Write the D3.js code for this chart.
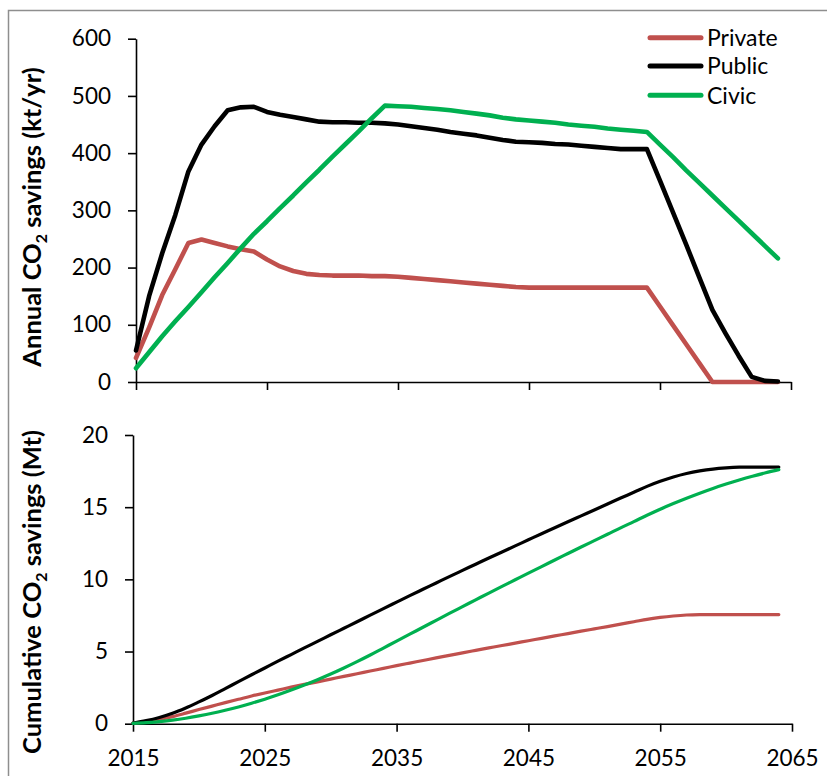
<!DOCTYPE html>
<html>
<head>
<meta charset="utf-8">
<script src="https://cdn.jsdelivr.net/npm/d3@7"></script>
<style>
  body { margin: 0; background: #ffffff; }
  svg { display: block; font-family: Lato, "Open Sans", sans-serif; }
</style>
</head>
<body>
<svg id="chart" width="827" height="776"></svg>
<script>
// Years covered by the scenario
const years = [2015, 2016, 2017, 2018, 2019, 2020, 2021, 2022, 2023, 2024,
               2025, 2026, 2027, 2028, 2029, 2030, 2031, 2032, 2033, 2034,
               2035, 2036, 2037, 2038, 2039, 2040, 2041, 2042, 2043, 2044,
               2045, 2046, 2047, 2048, 2049, 2050, 2051, 2052, 2053, 2054,
               2055, 2056, 2057, 2058, 2059, 2060, 2061, 2062, 2063, 2064];

// Annual CO2 savings, kt/yr
const privateAnnual = [42, 95, 152, 197, 243, 249, 243, 237, 232, 228,
                       214, 202, 194, 189, 187, 186, 186, 186, 185, 185,
                       184, 182, 180, 178, 176, 174, 172, 170, 168, 166,
                       165, 165, 165, 165, 165, 165, 165, 165, 165, 165,
                       132, 99, 66, 33, 0, 0, 0, 0, 0, 0];
const publicAnnual = [55, 150, 225, 292, 368, 415, 447, 475, 480, 481,
                      472, 467, 463, 459, 455, 454, 454, 453, 453, 452,
                      450, 447, 444, 441, 437, 434, 431, 427, 423, 420,
                      419, 418, 416, 415, 413, 411, 409, 407, 407, 407,
                      352, 296, 240, 183, 126, 85, 46, 9, 2, 1];
const civicAnnual = [24, 52, 80, 106, 131, 157, 183, 208, 234, 259,
                     281, 304, 326, 349, 371, 394, 416, 438, 461, 483,
                     482, 481, 479, 477, 475, 472, 469, 466, 462, 459,
                     457, 455, 453, 450, 448, 446, 443, 441, 439, 437,
                     415, 393, 370, 348, 326, 304, 282, 260, 238, 216];

// Cumulative CO2 savings, Mt
const privateCumulative = [0.04, 0.14, 0.29, 0.49, 0.73, 0.98, 1.22, 1.46, 1.69, 1.92,
                           2.13, 2.33, 2.53, 2.72, 2.90, 3.09, 3.28, 3.46, 3.65, 3.83,
                           4.02, 4.20, 4.38, 4.56, 4.73, 4.91, 5.08, 5.25, 5.42, 5.58,
                           5.75, 5.91, 6.08, 6.24, 6.41, 6.57, 6.73, 6.90, 7.06, 7.23,
                           7.36, 7.46, 7.53, 7.56, 7.56, 7.56, 7.56, 7.56, 7.56, 7.56];
const publicCumulative = [0.05, 0.21, 0.43, 0.72, 1.09, 1.51, 1.95, 2.43, 2.91, 3.39,
                          3.86, 4.33, 4.79, 5.25, 5.70, 6.16, 6.61, 7.06, 7.52, 7.97,
                          8.42, 8.87, 9.31, 9.75, 10.19, 10.62, 11.05, 11.48, 11.90, 12.32,
                          12.74, 13.16, 13.57, 13.99, 14.40, 14.81, 15.22, 15.63, 16.03, 16.44,
                          16.79, 17.09, 17.33, 17.51, 17.64, 17.72, 17.77, 17.78, 17.78, 17.78];
const civicCumulative = [0.02, 0.07, 0.15, 0.25, 0.38, 0.54, 0.72, 0.93, 1.16, 1.42,
                         1.70, 2.00, 2.33, 2.68, 3.05, 3.44, 3.86, 4.30, 4.76, 5.24,
                         5.72, 6.20, 6.68, 7.16, 7.64, 8.11, 8.58, 9.05, 9.51, 9.97,
                         10.43, 10.88, 11.34, 11.79, 12.24, 12.68, 13.12, 13.57, 14.00, 14.44,
                         14.86, 15.25, 15.62, 15.97, 16.30, 16.60, 16.88, 17.14, 17.38, 17.60];

const seriesNames = ["Private", "Public", "Civic"];
const seriesColors = ["#C0504D", "#000000", "#00B050"];
const xTickValues = [2015, 2025, 2035, 2045, 2055, 2065];
const annualTickValues = [0, 100, 200, 300, 400, 500, 600];
const cumulativeTickValues = [0, 5, 10, 15, 20];

const annualSeries = [privateAnnual, publicAnnual, civicAnnual];
const cumulativeSeries = [privateCumulative, publicCumulative, civicCumulative];

const svg = d3.select("#chart");

// Chart-area frame
svg.append("rect")
  .attr("x", 8.5).attr("y", 10.5)
  .attr("width", 860).attr("height", 820)
  .attr("fill", "none")
  .attr("stroke", "#8e8e8e")
  .attr("stroke-width", 1.5);

// Scales for both panels
const xTop = d3.scaleLinear().domain([2015, 2065]).range([136, 791]);
const yTop = d3.scaleLinear().domain([0, 600]).range([382, 38.7]);
const xBot = d3.scaleLinear().domain([2015, 2065]).range([133, 792]);
const yBot = d3.scaleLinear().domain([0, 20]).range([723.7, 435]);

function styleAxis(g) {
  g.selectAll("path.domain").attr("stroke", "#000").attr("stroke-width", 1.6);
  g.selectAll(".tick line").attr("stroke", "#000").attr("stroke-width", 1.6);
  g.selectAll(".tick text")
    .attr("fill", "#000")
    .style("font-size", "22.5px")
    .style("font-family", "Lato, 'Open Sans', sans-serif");
}

// Top panel axes
svg.append("g")
  .attr("transform", `translate(0,${yTop(0)})`)
  .call(d3.axisBottom(xTop).tickValues(xTickValues).tickSize(8).tickSizeOuter(0).tickFormat(""))
  .call(styleAxis);
svg.append("g")
  .attr("transform", `translate(${xTop(2015)},0)`)
  .call(d3.axisLeft(yTop).tickValues(annualTickValues).tickSize(8).tickSizeOuter(0).tickPadding(17))
  .call(styleAxis);

// Bottom panel axes
svg.append("g")
  .attr("transform", `translate(0,${yBot(0)})`)
  .call(d3.axisBottom(xBot).tickValues(xTickValues).tickSize(8).tickSizeOuter(0).tickPadding(18).tickFormat(d3.format("d")))
  .call(styleAxis);
svg.append("g")
  .attr("transform", `translate(${xBot(2015)},0)`)
  .call(d3.axisLeft(yBot).tickValues(cumulativeTickValues).tickSize(8).tickSizeOuter(0).tickPadding(17))
  .call(styleAxis);

// Annual lines (straight segments)
const annualLine = d3.line()
  .x((d, i) => xTop(years[i]))
  .y(d => yTop(d));
annualSeries.forEach((s, k) => {
  svg.append("path")
    .datum(s)
    .attr("d", annualLine)
    .attr("fill", "none")
    .attr("stroke", seriesColors[k])
    .attr("stroke-width", 4.6)
    .attr("stroke-linejoin", "round")
    .attr("stroke-linecap", "round");
});

// Cumulative lines (smoothed)
const cumulativeLine = d3.line()
  .x((d, i) => xBot(years[i]))
  .y(d => yBot(d))
  .curve(d3.curveCatmullRom.alpha(0.5));
cumulativeSeries.forEach((s, k) => {
  svg.append("path")
    .datum(s)
    .attr("d", cumulativeLine)
    .attr("fill", "none")
    .attr("stroke", seriesColors[k])
    .attr("stroke-width", 3.2)
    .attr("stroke-linejoin", "round")
    .attr("stroke-linecap", "round");
});

// Y-axis titles with subscript
function axisTitle(cx, cy, size, before, after) {
  const t = svg.append("text")
    .attr("transform", `translate(${cx},${cy}) rotate(-90)`)
    .attr("text-anchor", "middle")
    .style("font-weight", "bold")
    .style("font-size", size + "px")
    .attr("fill", "#000");
  t.append("tspan").text(before);
  t.append("tspan").attr("dy", 6).style("font-size", Math.round(size * 0.62) + "px").text("2");
  t.append("tspan").attr("dy", -6).text(after);
}
axisTitle(41, 217, 25.5, "Annual CO", " savings (kt/yr)");
axisTitle(41, 592, 25.5, "Cumulative CO", " savings (Mt)");

// Legend
const legendY = [37.7, 66, 95.3];
seriesNames.forEach((name, k) => {
  svg.append("line")
    .attr("x1", 650).attr("x2", 701)
    .attr("y1", legendY[k]).attr("y2", legendY[k])
    .attr("stroke", seriesColors[k])
    .attr("stroke-width", 5)
    .attr("stroke-linecap", "round");
  svg.append("text")
    .attr("x", 707).attr("y", legendY[k])
    .attr("dy", "0.36em")
    .style("font-size", "23px")
    .attr("fill", "#000")
    .text(name);
});
</script>
</body>
</html>
